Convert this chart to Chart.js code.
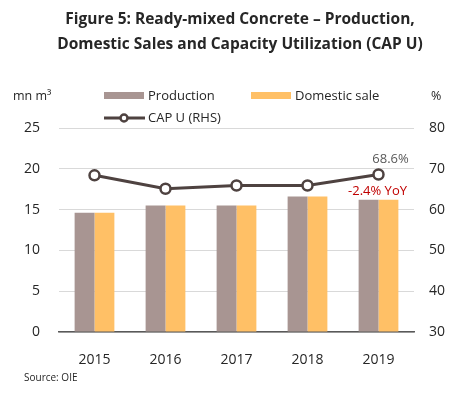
<!DOCTYPE html>
<html>
<head>
<meta charset="utf-8">
<script src="https://cdn.jsdelivr.net/npm/chart.js@4"></script>
<style>
  html, body { margin: 0; padding: 0; background: #fff; }
  #wrap { width: 473px; height: 397px; position: relative; }
</style>
</head>
<body>
<div id="wrap"><canvas id="chart" width="473" height="397"></canvas></div>
<script>
// Datos del gráfico
const years = ['2015', '2016', '2017', '2018', '2019'];
const production = [14.6, 15.5, 15.5, 16.6, 16.2];
const domesticSale = [14.6, 15.5, 15.5, 16.6, 16.2];
const capU = [68.4, 65.1, 65.9, 65.9, 68.6];
const leftTicks = [0, 5, 10, 15, 20, 25];
const rightTicks = [30, 40, 50, 60, 70, 80];

const titleLines = [
    'Figure 5: Ready-mixed Concrete \u2013 Production,',
    'Domestic Sales and Capacity Utilization (CAP U)'
];
const capLabel = '68.6%';
const yoyLabel = '-2.4% YoY';
const sourceText = 'Source: OIE';

const FONT = '"Open Sans", sans-serif';
const TEXT = '#262626';

// Textos extra: título, unidades, leyenda, notas y fuente
const extras = {
    id: 'extras',
    afterDraw(chart) {
        const c = chart.ctx;
        c.save();
        c.fillStyle = TEXT;
        c.textAlign = 'center';
        c.textBaseline = 'middle';
        c.font = 'bold 15.5px ' + FONT;
        c.fillText(titleLines[0], 240, 20);
        c.fillText(titleLines[1], 240, 45);

        c.font = '12.5px ' + FONT;
        c.textAlign = 'left';
        c.fillText('mn m\u00B3', 13, 96);
        c.fillText('%', 431, 96);

        // leyenda
        const ds = chart.data.datasets;
        c.font = '13px ' + FONT;
        c.fillStyle = ds[0].backgroundColor;
        c.fillRect(104, 92, 40, 7);
        c.fillStyle = ds[1].backgroundColor;
        c.fillRect(251, 92, 40, 7);
        c.strokeStyle = ds[2].borderColor;
        c.lineWidth = 3;
        c.beginPath();
        c.moveTo(104, 118);
        c.lineTo(145, 118);
        c.stroke();
        c.beginPath();
        c.arc(124, 118, 3.5, 0, Math.PI * 2);
        c.fillStyle = '#fff';
        c.fill();
        c.lineWidth = 2.5;
        c.stroke();
        c.fillStyle = TEXT;
        c.fillText(ds[0].label, 148, 96);
        c.fillText(ds[1].label, 295, 96);
        c.fillText(ds[2].label, 148, 118);

        // anotaciones 2019
        const pt = chart.getDatasetMeta(2).data[4];
        c.textAlign = 'center';
        c.font = '13px ' + FONT;
        c.fillStyle = '#595959';
        c.fillText(capLabel, pt.x + 12, pt.y - 15);
        c.fillStyle = '#C00000';
        c.fillText(yoyLabel, pt.x - 1, pt.y + 17);

        c.textAlign = 'left';
        c.font = '10px ' + FONT;
        c.fillStyle = TEXT;
        c.fillText(sourceText, 24, 378);
        c.restore();
    }
};

new Chart(document.getElementById('chart'), {
    type: 'bar',
    data: {
        labels: years,
        datasets: [
            {
                label: 'Production',
                data: production,
                backgroundColor: '#A89592',
                yAxisID: 'y',
                order: 2
            },
            {
                label: 'Domestic sale',
                data: domesticSale,
                backgroundColor: '#FFC066',
                yAxisID: 'y',
                order: 2
            },
            {
                type: 'line',
                label: 'CAP U (RHS)',
                data: capU,
                borderColor: '#4E4240',
                borderWidth: 3,
                pointBackgroundColor: '#fff',
                pointBorderColor: '#4E4240',
                pointBorderWidth: 2.5,
                pointRadius: 5,
                tension: 0,
                yAxisID: 'y1',
                order: 1
            }
        ]
    },
    options: {
        responsive: false,
        animation: false,
        layout: { padding: { top: 128, left: 0, right: 0, bottom: 0 } },
        categoryPercentage: 0.56,
        barPercentage: 1,
        plugins: {
            legend: { display: false },
            tooltip: { enabled: false }
        },
        scales: {
            x: {
                grid: { display: false },
                border: { color: '#595959', width: 1.5 },
                ticks: { color: TEXT, font: { family: FONT, size: 14 }, padding: 12 },
                afterFit(s) { s.height = 65; }
            },
            y: {
                position: 'left',
                min: 0, max: 25,
                afterBuildTicks(s) { s.ticks = leftTicks.map(v => ({ value: v })); },
                grid: { color: '#D9D9D9', drawTicks: false },
                border: { display: false },
                ticks: { color: TEXT, font: { family: FONT, size: 14 }, padding: 19 },
                afterFit(s) { s.width = 59; }
            },
            y1: {
                position: 'right',
                min: 30, max: 80,
                afterBuildTicks(s) { s.ticks = rightTicks.map(v => ({ value: v })); },
                grid: { display: false, drawTicks: false },
                border: { display: false },
                ticks: { color: TEXT, font: { family: FONT, size: 14 }, padding: 15 },
                afterFit(s) { s.width = 59; }
            }
        }
    },
    plugins: [extras]
});
</script>
</body>
</html>
